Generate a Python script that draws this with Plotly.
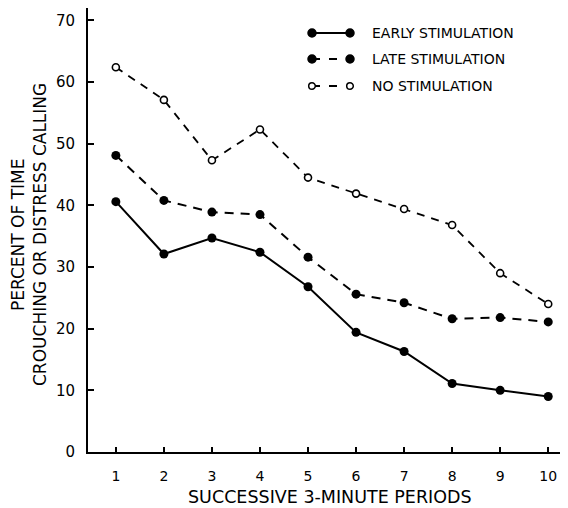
import plotly.graph_objects as go

periods = [1, 2, 3, 4, 5, 6, 7, 8, 9, 10]
early = [40.6, 32.1, 34.7, 32.4, 26.8, 19.4, 16.3, 11.1, 10.0, 9.0]
late = [48.1, 40.8, 38.9, 38.5, 31.6, 25.6, 24.2, 21.6, 21.8, 21.1]
none_ = [62.4, 57.1, 47.3, 52.3, 44.5, 41.9, 39.4, 36.8, 29.0, 24.0]
y_ticks = [0, 10, 20, 30, 40, 50, 60, 70]
legend_labels = ["EARLY STIMULATION", "LATE STIMULATION", "NO STIMULATION"]

FONT = "DejaVu Sans"
fig = go.Figure()

fig.add_trace(go.Scatter(x=periods, y=none_, mode="lines+markers",
                         line=dict(color="black", width=1.8, dash="8px,7px"),
                         marker=dict(symbol="circle", size=7, color="white",
                                     line=dict(color="black", width=1.6)),
                         name=legend_labels[2], showlegend=False))
fig.add_trace(go.Scatter(x=periods, y=late, mode="lines+markers",
                         line=dict(color="black", width=2, dash="9px,7px"),
                         marker=dict(symbol="circle", size=9, color="black"),
                         name=legend_labels[1], showlegend=False))
fig.add_trace(go.Scatter(x=periods, y=early, mode="lines+markers",
                         line=dict(color="black", width=2),
                         marker=dict(symbol="circle", size=9, color="black"),
                         name=legend_labels[0], showlegend=False))

# plot area in page pixels: x 88..566, y 8..452 (page has 8px body margin)
W, H = 478.0, 444.0
def px(x):
    return (x - 88) / W
def py(y):
    return (452 - y) / H

shapes = []
annotations = []
rows = [33, 59, 86]
styles = [("solid", True), ("dash", True), ("dash", False)]
for r, (dash, filled), lab in zip(rows, styles, legend_labels):
    x0, x1 = 312, 350
    shapes.append(dict(type="line", xref="paper", yref="paper",
                       x0=px(x0), x1=px(x1), y0=py(r), y1=py(r),
                       line=dict(color="black", width=2,
                                 dash="solid" if dash == "solid" else "8px,9px")))
    rad = 4 if filled else 3.3
    for cx in (x0, x1):
        shapes.append(dict(type="circle", xref="paper", yref="paper",
                           x0=px(cx - rad), x1=px(cx + rad),
                           y0=py(r + rad), y1=py(r - rad),
                           fillcolor="black" if filled else "white",
                           line=dict(color="black", width=1.5)))
    annotations.append(dict(xref="paper", yref="paper", x=px(370), y=py(r),
                            text=lab, showarrow=False, xanchor="left",
                            yanchor="middle",
                            font=dict(family=FONT, size=14, color="black")))

annotations.append(dict(xref="paper", yref="paper", x=px(18), y=py(235),
                        text="PERCENT OF TIME", textangle=-90, showarrow=False,
                        xanchor="center", yanchor="middle",
                        font=dict(family=FONT, size=17, color="black")))
annotations.append(dict(xref="paper", yref="paper", x=px(40), y=py(235),
                        text="CROUCHING OR DISTRESS CALLING", textangle=-90,
                        showarrow=False, xanchor="center", yanchor="middle",
                        font=dict(family=FONT, size=17, color="black")))
annotations.append(dict(xref="paper", yref="paper", x=px(330), y=py(497),
                        text="SUCCESSIVE 3-MINUTE PERIODS", showarrow=False,
                        xanchor="center", yanchor="middle",
                        font=dict(family=FONT, size=17.5, color="black")))

fig.update_layout(
    width=560, height=500,
    margin=dict(l=80, r=2, t=0, b=56),
    paper_bgcolor="white", plot_bgcolor="white",
    shapes=shapes, annotations=annotations,
    showlegend=False,
    xaxis=dict(range=[0.42, 10.37], tickvals=periods,
               ticktext=[str(p) for p in periods],
               ticks="inside", ticklen=5, tickwidth=1.5, tickcolor="black",
               showline=True, linecolor="black", linewidth=2,
               showgrid=False, zeroline=False, ticklabelstandoff=10,
               tickfont=dict(family=FONT, size=14, color="black")),
    yaxis=dict(range=[0, 72], tickvals=y_ticks,
               ticks="inside", ticklen=6, tickwidth=1.5, tickcolor="black",
               showline=True, linecolor="black", linewidth=2,
               showgrid=False, zeroline=False, ticklabelstandoff=8,
               tickfont=dict(family=FONT, size=15, color="black")),
)

fig.write_html("out.html")
